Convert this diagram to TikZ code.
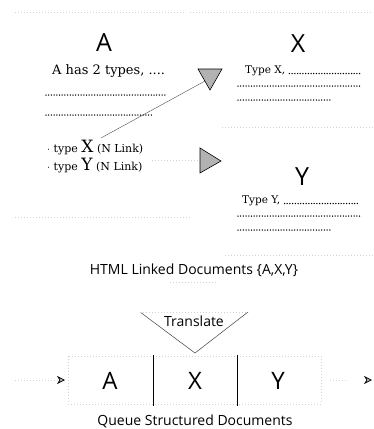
\documentclass[tikz,border=0pt]{standalone}
\usepackage{fontspec}
\setmainfont{DejaVu Serif}
\newfontfamily\sansf{Open Sans}
\usetikzlibrary{arrows.meta,calc}
\begin{document}
\begin{tikzpicture}[x=1pt,y=-1pt,
  faint/.style={draw=gray!35, line width=0.5pt, dash pattern=on 1pt off 2pt},
  dots/.style={draw=black, line width=1.5pt, line cap=round, dash pattern=on 0pt off 2.7pt},
  big/.style={font=\sansf\fontsize{25}{25}\selectfont, inner sep=0pt},
  serif/.style={font=\fontsize{13}{13}\selectfont, inner sep=0pt, anchor=west},
  tri/.style={draw=black, line width=0.6pt, fill=gray!60},
  caption/.style={font=\sansf\fontsize{14}{14}\selectfont, inner sep=0pt},
  qletter/.style={font=\sansf\fontsize{24}{24}\selectfont, inner sep=0pt}]
\useasboundingbox (0,0) rectangle (373,429);

% faint scan lines
\draw[faint] (15,12) -- (185,12);
\draw[faint] (190,12) -- (373,12);
\draw[faint] (222,127) -- (373,127);
\draw[faint] (15,217) -- (190,217);
\draw[faint] (225,255) -- (373,255);
\draw[faint] (170,282) -- (218,282);

% Document A
\node[big] (A) at (104,43) {A};
\node[serif] (Atxt) at (52,71) {A has 2 types, ....};
\draw[dots] (46,95) -- (165,95);
\draw[dots] (46,115) -- (153,115);
\node[serif, font=\fontsize{11}{11}\selectfont] (tx) at (47,148) {$\cdot$ type {\fontsize{17}{17}\selectfont X} (N Link)};
\node[serif, font=\fontsize{11}{11}\selectfont] (ty) at (47,166) {$\cdot$ type {\fontsize{17}{17}\selectfont Y} (N Link)};
\coordinate (xlink) at (101,138);
\coordinate (ylink) at (152,160);

% link triangles
\coordinate (t1a) at (198,69);
\coordinate (t1b) at (222,69);
\coordinate (t1c) at (210,90);
\draw[tri] (t1a) -- (t1b) -- (t1c) -- cycle;
\coordinate (t1in) at (205,81);
\draw[line width=0.4pt, black!70] (xlink) -- (t1in);

\coordinate (t2a) at (200,148);
\coordinate (t2b) at (200,173);
\coordinate (t2c) at (221,161);
\draw[tri] (t2a) -- (t2b) -- (t2c) -- cycle;
\draw[faint] (ylink) -- (t2a |- ylink);

% Document X
\node[big] (X) at (298,44) {X};
\node[serif, font=\fontsize{10.5}{11}\selectfont] (Xtxt) at (245,71) {Type X,};
\draw[dots] (Xtxt.east) ++(4,2.5) -- (360,73.5);
\draw[dots] (238,86) -- (360,86);
\draw[dots] (238,100) -- (330,100);

% Document Y
\node[big] (Y) at (302,177) {Y};
\node[serif, font=\fontsize{10.5}{11}\selectfont] (Ytxt) at (242,201) {Type Y,};
\draw[dots] (Ytxt.east) ++(4,2.5) -- (360,203.5);
\draw[dots] (238,216) -- (360,216);
\draw[dots] (238,230) -- (330,230);

\node[caption] (cap1) at (194,270) {HTML Linked Documents \{A,X,Y\}};

% Translate funnel
\coordinate (fl) at (140,312);
\coordinate (fr) at (248,312);
\coordinate (fb) at (195,353);
\draw[line width=0.5pt, black!75] (fl) -- (fb) -- (fr);
\draw[faint] (fl) -- (fr);
\node[caption] (tr) at (194,321) {Translate};

% Queue
\draw[faint] (68,356) rectangle (321,404);
\draw[line width=0.6pt] (153,355) -- (153,406);
\draw[line width=0.6pt] (237,355) -- (237,406);
\node[qletter] (qa) at (110,381) {A};
\node[qletter] (qx) at (195,381) {X};
\node[qletter] (qy) at (278,381) {Y};
\coordinate (inS) at (15,380);
\coordinate (inE) at (65,380);
\coordinate (outS) at (330,380);
\coordinate (outE) at (372,380);
\draw[faint] (inS) -- (inE);
\draw[faint] (outS) -- (348,380);
\draw[line width=0.7pt, -{Stealth[inset=2.5pt, length=8pt, width=8pt, fill=gray!50]}] ($(inE)+(-6,0)$) -- (inE);
\draw[line width=0.7pt, -{Stealth[inset=2.5pt, length=8pt, width=8pt, fill=gray!50]}] ($(outE)+(-6,0)$) -- (outE);

\node[caption] (cap2) at (195,421) {Queue Structured Documents};
\end{tikzpicture}
\end{document}
